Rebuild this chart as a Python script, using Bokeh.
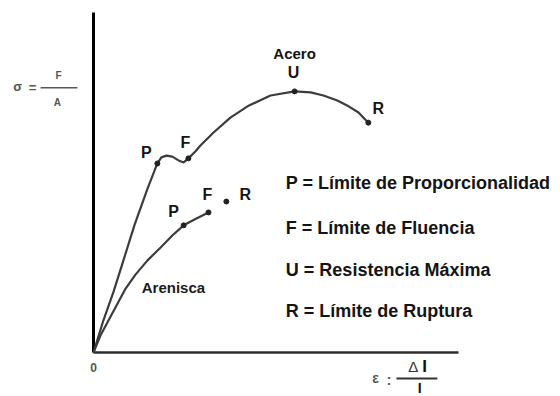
from bokeh.plotting import figure
from bokeh.models import Range1d
from bokeh.embed import file_html
from bokeh.resources import INLINE
from bokeh.core.properties import value

# Schematic stress–strain curves (arbitrary units, both axes span 0..10)
steel_strain = [0.00, 0.27, 0.55, 0.82, 1.12, 1.48, 1.75, 1.86, 2.00, 2.16, 2.33, 2.47,
                2.60, 2.79, 2.93, 3.29, 3.75, 4.22, 4.85, 5.51, 5.95, 6.30, 6.68, 6.96,
                7.26, 7.53]
steel_stress = [0.00, 0.94, 1.79, 2.71, 3.74, 4.82, 5.56, 5.74, 5.79, 5.76, 5.65, 5.59,
                5.71, 5.91, 6.09, 6.47, 6.91, 7.24, 7.56, 7.68, 7.65, 7.56, 7.41, 7.26,
                7.06, 6.76]

sand_strain = [0.00, 0.19, 0.41, 0.63, 0.88, 1.15, 1.48, 1.84, 2.16, 2.47, 2.82, 3.15]
sand_stress = [0.00, 0.50, 0.94, 1.38, 1.88, 2.29, 2.71, 3.09, 3.44, 3.74, 3.94, 4.12]

# Characteristic points
steel_pt_names = ["P", "F", "U", "R"]
steel_pt_strain = [1.75, 2.60, 5.51, 7.53]
steel_pt_stress = [5.56, 5.71, 7.68, 6.76]

sand_pt_names = ["P", "F", "R"]
sand_pt_strain = [2.47, 3.15, 3.64]
sand_pt_stress = [3.74, 4.12, 4.44]

legend_lines = [
    "P = Límite de Proporcionalidad",
    "F = Límite de Fluencia",
    "U = Resistencia Máxima",
    "R = Límite de Ruptura",
]

FONT = value("Liberation Sans")
CURVE = "#3c3c3c"
INK = "#141414"

p = figure(width=560, height=396, output_backend="svg", toolbar_location=None,
           x_range=Range1d(-2.548, 12.795), y_range=Range1d(-1.294, 10.353),
           x_axis_type=None, y_axis_type=None, min_border=0)
p.grid.visible = False
p.outline_line_color = None
p.background_fill_color = "white"
p.border_fill_color = "white"

# Axes drawn as plain lines from the origin
p.segment(x0=[0], y0=[0], x1=[0], y1=[10], line_color="#000000", line_width=3)
p.segment(x0=[0], y0=[0], x1=[10], y1=[0], line_color="#2e2e2e", line_width=2.5)

# Curves
p.line(steel_strain, steel_stress, line_color=CURVE, line_width=2.2)
p.line(sand_strain, sand_stress, line_color=CURVE, line_width=2.2)

# Points
p.scatter(steel_pt_strain, steel_pt_stress, size=5, color="#222222")
p.scatter(sand_pt_strain, sand_pt_stress, size=5, color="#222222")

# Point letters
p.text(x=steel_pt_strain, y=steel_pt_stress, text=steel_pt_names,
       x_offset=[-11, -3, -1, 10], y_offset=[-11, -16, -19, -14],
       text_font=FONT, text_font_style="bold", text_font_size="16px",
       text_align="center", text_baseline="middle", text_color=INK)
p.text(x=sand_pt_strain, y=sand_pt_stress, text=sand_pt_names,
       x_offset=[-10, -1, 19], y_offset=[-14, -18, -7],
       text_font=FONT, text_font_style="bold", text_font_size="16px",
       text_align="center", text_baseline="middle", text_color=INK)

# Material names
p.text(x=[steel_pt_strain[2]], y=[steel_pt_stress[2]], text=["Acero"],
       x_offset=[0], y_offset=[-38],
       text_font=FONT, text_font_style="bold", text_font_size="15px",
       text_align="center", text_baseline="middle", text_color=INK)
p.text(x=[2.19], y=[1.91], text=["Arenisca"],
       text_font=FONT, text_font_style="bold", text_font_size="15px",
       text_align="center", text_baseline="middle", text_color="#1c1c1c")

# Key
p.text(x=[5.27] * 4, y=[4.99, 3.66, 2.44, 1.21], text=legend_lines,
       text_font=FONT, text_font_style="bold", text_font_size="18px",
       text_align="left", text_baseline="middle", text_color=INK)

# Axis captions: sigma = F / A
GREY = "#555555"
p.text(x=[-2.08, -1.67], y=[7.82, 7.80], text=["σ", "="],
       text_font=FONT, text_font_style="bold", text_font_size="13px",
       text_align="center", text_baseline="middle", text_color=GREY)
p.segment(x0=[-1.45], y0=[7.79], x1=[-0.44], y1=[7.79], line_color=GREY, line_width=1.5)
p.text(x=[-0.96, -0.99], y=[8.15, 7.35], text=["F", "A"],
       text_font=FONT, text_font_style="bold", text_font_size="10px",
       text_align="center", text_baseline="middle", text_color=GREY)

# origin
p.text(x=[0], y=[-0.44], text=["0"],
       text_font=FONT, text_font_style="bold", text_font_size="12px",
       text_align="center", text_baseline="middle", text_color=GREY)

# epsilon = ΔI / I
p.text(x=[7.73, 8.10], y=[-0.76, -0.80], text=["ε", ":"],
       text_font=FONT, text_font_style="bold", text_font_size="14px",
       text_align="center", text_baseline="middle", text_color=GREY)
p.segment(x0=[8.30], y0=[-0.765], x1=[9.42], y1=[-0.765], line_color="#333333", line_width=1.8)
p.text(x=[8.76], y=[-0.41], text=["Δ"],
       text_font=FONT, text_font_size="15px",
       text_align="center", text_baseline="middle", text_color="#333333")
p.text(x=[9.07], y=[-0.40], text=["I"],
       text_font=FONT, text_font_style="bold", text_font_size="17px",
       text_align="center", text_baseline="middle", text_color="#111111")
p.text(x=[8.94], y=[-1.03], text=["I"],
       text_font=FONT, text_font_style="bold", text_font_size="14px",
       text_align="center", text_baseline="middle", text_color="#111111")

open("out.html", "w").write(file_html(p, INLINE))
